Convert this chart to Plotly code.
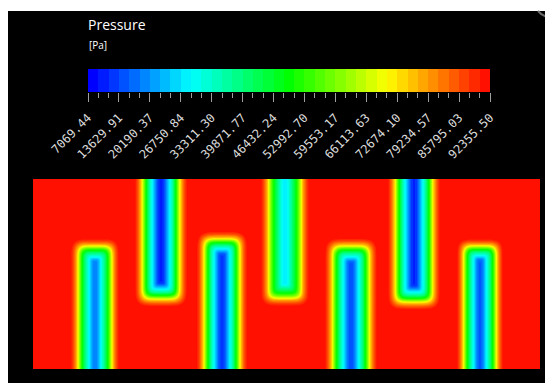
import numpy as np
import plotly.graph_objects as go

# page is 553x383 with the browser's 8px body margin -> figure is 545x375
PAGE_OFF = 8
W, H = 553 - PAGE_OFF, 383 - PAGE_OFF

# ---- data ----
P_MIN = 7069.44
P_MAX = 92355.50
tick_values = [7069.44, 13629.91, 20190.37, 26750.84, 33311.30, 39871.77, 46432.24,
               52992.70, 59553.17, 66113.63, 72674.10, 79234.57, 85795.03, 92355.50]
tick_labels = ["7069.44", "13629.91", "20190.37", "26750.84", "33311.30", "39871.77",
               "46432.24", "52992.70", "59553.17", "66113.63", "72674.10", "79234.57",
               "85795.03", "92355.50"]
N_BANDS = 39

# low-pressure slots (x centre, side they open to, tip height above bottom edge,
# half width, minimum pressure at the core) - in page pixels
slot_cx = [95, 161, 222, 285, 351, 414, 480]
slot_side = ["bottom", "top", "bottom", "top", "bottom", "top", "bottom"]
slot_tip = [124, 69, 131, 69, 124, 66, 124]
slot_halfwidth = [24, 26, 25, 24, 26, 26, 23]
slot_pmin = [18000, 10000, 12000, 27000, 14000, 10500, 15000]
# pressure profile across a slot (fraction of distance to edge -> fraction of rise)
profile_t = [0.0, 0.12, 0.3, 0.45, 0.58, 0.68, 0.75, 0.88, 1.0]
profile_f = [0.0, 0.04, 0.2, 0.33, 0.5, 0.66, 0.79, 0.92, 1.0]

# ---- colours ----
def rainbow(t):
    stops = [(0.0, (0, 0, 255)), (0.25, (0, 255, 255)), (0.5, (0, 255, 0)),
             (0.75, (255, 255, 0)), (1.0, (255, 16, 0))]
    for (t0, c0), (t1, c1) in zip(stops[:-1], stops[1:]):
        if t <= t1:
            f = (t - t0) / (t1 - t0)
            return "rgb(%d,%d,%d)" % tuple(round(a + (b - a) * f) for a, b in zip(c0, c1))
    return "rgb(255,16,0)"

band_colors = [rainbow(i / (N_BANDS - 1)) for i in range(N_BANDS)]
colorscale = []
for i, c in enumerate(band_colors):
    colorscale.append([i / N_BANDS, c])
    colorscale.append([(i + 1) / N_BANDS, c])
STEP = (P_MAX - P_MIN) / N_BANDS

# ---- field built from the slot geometry ----
X0, X1, YH = 33, 540, 190
xs = np.linspace(X0, X1, 339)
ys = np.linspace(0, YH, 128)
XX, YY = np.meshgrid(xs, ys)
P_BG = P_MAX - STEP / 2
Z = np.full(XX.shape, P_BG)
EXP_N = 5.0
for cx, side, tip, hw, pmin in zip(slot_cx, slot_side, slot_tip, slot_halfwidth, slot_pmin):
    dx = np.abs(XX - cx)
    if side == "bottom":
        seg_end = tip - 0.75 * hw
        dy = np.clip(YY - seg_end, 0, None)
    else:
        seg_end = tip + 0.75 * hw
        dy = np.clip(seg_end - YY, 0, None)
    d = (dx ** EXP_N + dy ** EXP_N) ** (1 / EXP_N)
    t = np.clip(d / hw, 0, 1)
    val = pmin + (P_BG - pmin) * np.interp(t, profile_t, profile_f)
    Z = np.minimum(Z, val)

fig = go.Figure()
fig.add_trace(go.Contour(x=xs, y=ys, z=Z, colorscale=colorscale, zmin=P_MIN, zmax=P_MAX,
                         autocontour=False,
                         contours=dict(start=P_MIN, end=P_MAX, size=STEP, coloring="fill",
                                       showlines=False),
                         line=dict(width=0, smoothing=0), showscale=False,
                         hoverinfo="skip", xaxis="x", yaxis="y"))

edges = np.linspace(P_MIN, P_MAX, N_BANDS + 1)
centers = (edges[:-1] + edges[1:]) / 2
fig.add_trace(go.Heatmap(x=edges, y=[0, 1], z=[centers], colorscale=colorscale,
                         zmin=P_MIN, zmax=P_MAX, showscale=False, hoverinfo="skip",
                         xaxis="x2", yaxis="y2"))

def px_x(a, b):
    return [(a - PAGE_OFF) / W, (b - PAGE_OFF) / W]

def px_y(top, bottom):
    return [1 - (bottom - PAGE_OFF) / H, 1 - (top - PAGE_OFF) / H]

def fx(a):
    return (a - PAGE_OFF) / W

def fy(a):
    return 1 - (a - PAGE_OFF) / H

fig.update_layout(
    width=W, height=H, autosize=False,
    margin=dict(l=0, r=0, t=0, b=0, pad=0, autoexpand=False),
    paper_bgcolor="white", plot_bgcolor="black", showlegend=False,
    xaxis=dict(domain=px_x(33, 540), range=[X0, X1], visible=False, fixedrange=True,
               automargin=False),
    yaxis=dict(domain=px_y(179, 369), range=[0, YH], visible=False, fixedrange=True,
               automargin=False),
    xaxis2=dict(domain=px_x(88, 490), range=[P_MIN, P_MAX], anchor="y2",
                tickmode="array", tickvals=tick_values, ticktext=tick_labels,
                ticks="outside", ticklen=9, tickwidth=1, tickcolor="#a0a0a0",
                ticklabelstandoff=4,
                minor=dict(tickmode="linear", tick0=P_MIN, dtick=STEP,
                           ticks="outside", ticklen=5, tickcolor="#a0a0a0", showgrid=False),
                tickangle=-45,
                tickfont=dict(family="DejaVu Sans Mono", size=12, color="#dcdcdc"),
                showgrid=False, zeroline=False, showline=False, fixedrange=True,
                automargin=False),
    yaxis2=dict(domain=px_y(69, 92), range=[0, 1], anchor="x2", visible=False,
                fixedrange=True, automargin=False),
    shapes=[
        dict(type="rect", xref="paper", yref="paper", x0=0, x1=1, y0=0, y1=fy(11),
             fillcolor="black", line=dict(width=0), layer="below"),
        dict(type="path", xref="paper", yref="paper",
             path="M %f,%f Q %f,%f %f,%f" % (fx(538), fy(11), fx(543), fy(17),
                                             fx(552), fy(18)),
             line=dict(color="#6a6a6a", width=2), layer="above"),
    ],
    annotations=[
        dict(text="Pressure", xref="paper", yref="paper", x=fx(86), y=fy(13),
             xanchor="left", yanchor="top", showarrow=False,
             font=dict(family="Open Sans", size=14, color="white")),
        dict(text="[Pa]", xref="paper", yref="paper", x=fx(87), y=fy(36),
             xanchor="left", yanchor="top", showarrow=False,
             font=dict(family="Open Sans", size=10, color="white")),
    ],
)

fig.write_html("out.html", config={"responsive": False, "displayModeBar": False})
